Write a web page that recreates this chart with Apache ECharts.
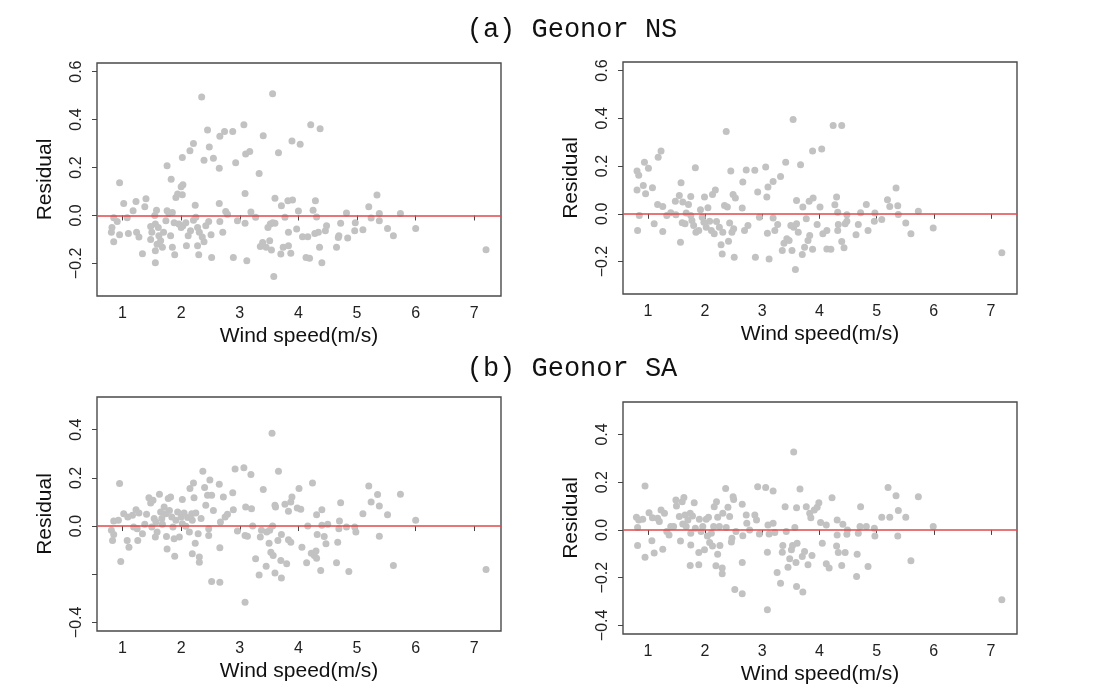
<!DOCTYPE html>
<html>
<head>
<meta charset="utf-8">
<script src="https://cdn.jsdelivr.net/npm/echarts@6/dist/echarts.min.js"></script>
<style>html,body{margin:0;padding:0;background:#fff}#c{width:1094px;height:696px}</style>
</head>
<body>
<div id="c"></div>
<script>
// ---- data (wind speed, residual) ----
const titleA = '(a) Geonor NS';
const titleB = '(b) Geonor SA';
const xName = 'Wind speed(m/s)';
const yName = 'Residual';
const xTicks = [1, 2, 3, 4, 5, 6, 7];
const yTicksNS = [-0.2, 0, 0.2, 0.4, 0.6];
const yTicksSA = [-0.4, -0.2, 0, 0.2, 0.4];

const nsLeft = [[0.95,0.136],[1.02,0.05],[0.85,-0.01],[0.91,-0.025],[0.82,-0.05],[0.81,-0.07],[0.85,-0.11],[0.95,-0.08],[1.08,-0.01],[1.18,0.02],[1.23,0.058],[1.10,-0.075],[1.24,-0.07],[1.28,-0.09],[1.34,-0.16],[1.38,0.036],[1.40,0.07],[1.48,-0.046],[1.50,-0.07],[1.48,-0.1],[1.55,0.0],[1.58,0.022],[1.56,-0.036],[1.61,-0.05],[1.56,-0.147],[1.56,-0.197],[1.59,-0.12],[1.62,-0.085],[1.65,-0.105],[1.68,-0.133],[1.70,-0.07],[1.74,-0.022],[1.76,0.02],[1.79,0.008],[1.76,0.207],[1.83,0.151],[1.85,0.012],[1.82,-0.085],[1.85,-0.133],[1.89,-0.164],[1.88,-0.03],[1.91,0.075],[1.94,0.089],[2.00,0.12],[2.03,0.128],[2.02,0.086],[2.00,-0.05],[1.96,-0.036],[2.03,-0.043],[2.08,-0.03],[2.02,0.242],[2.09,-0.126],[2.12,-0.085],[2.16,-0.064],[2.15,0.27],[2.21,0.3],[2.24,0.043],[2.21,-0.02],[2.25,-0.008],[2.28,-0.05],[2.30,-0.164],[2.28,-0.126],[2.31,-0.07],[2.35,0.494],[2.36,-0.09],[2.39,-0.11],[2.39,0.23],[2.42,-0.043],[2.45,0.357],[2.47,-0.025],[2.48,0.286],[2.51,-0.08],[2.52,-0.175],[2.55,0.239],[2.65,0.197],[2.65,0.05],[2.66,-0.025],[2.66,0.33],[2.74,0.35],[2.71,-0.07],[2.76,0.017],[2.79,0.005],[2.88,0.35],[2.89,-0.175],[2.93,0.22],[2.96,-0.022],[3.07,0.378],[3.09,0.092],[3.09,-0.033],[3.12,-0.189],[3.10,0.256],[3.17,0.267],[3.19,0.014],[3.27,-0.008],[3.33,0.175],[3.40,0.332],[3.35,-0.13],[3.39,-0.113],[3.45,-0.133],[3.51,-0.105],[3.54,-0.144],[3.56,0.508],[3.48,-0.05],[3.52,-0.036],[3.56,-0.03],[3.60,-0.033],[3.58,-0.255],[3.60,0.072],[3.66,0.262],[3.71,0.04],[3.70,-0.161],[3.74,-0.133],[3.77,-0.008],[3.82,0.061],[3.83,-0.07],[3.83,-0.126],[3.87,-0.158],[3.89,0.311],[3.90,0.064],[3.97,-0.057],[4.00,0.019],[4.03,0.297],[4.07,-0.089],[4.16,-0.089],[4.13,-0.175],[4.19,-0.178],[4.21,0.378],[4.25,0.022],[4.29,0.061],[4.31,-0.006],[4.28,-0.075],[4.34,-0.07],[4.36,-0.133],[4.37,0.362],[4.40,-0.197],[4.46,-0.064],[4.48,-0.043],[4.65,-0.133],[4.68,-0.092],[4.69,-0.085],[4.72,-0.033],[4.82,0.01],[4.84,-0.094],[4.97,-0.03],[4.96,-0.064],[5.10,-0.06],[5.20,0.036],[5.24,-0.011],[5.34,0.085],[5.38,0.008],[5.38,-0.022],[5.52,-0.054],[5.62,-0.085],[5.74,0.008],[6.00,-0.054],[7.20,-0.143]];

const nsRight = [[0.81,0.179],[0.84,0.161],[0.94,0.216],[1.01,0.191],[0.92,0.119],[0.96,0.084],[1.08,0.109],[0.81,0.1],[0.85,-0.007],[0.82,-0.07],[1.11,-0.042],[1.18,0.237],[1.23,0.263],[1.17,0.039],[1.26,0.031],[1.26,-0.074],[1.33,-0.007],[1.40,0.004],[1.48,0.053],[1.49,-0.004],[1.58,0.13],[1.55,0.077],[1.57,-0.119],[1.61,0.049],[1.60,-0.038],[1.65,-0.042],[1.67,0.003],[1.71,0.039],[1.75,0.073],[1.75,-0.007],[1.77,-0.028],[1.83,0.193],[1.80,-0.049],[1.84,-0.077],[1.89,-0.07],[1.92,0.017],[1.95,-0.014],[1.99,0.07],[1.98,-0.035],[2.02,-0.056],[2.05,0.025],[2.08,-0.031],[2.11,-0.07],[2.13,0.081],[2.18,0.1],[2.16,-0.084],[2.20,-0.032],[2.25,-0.056],[2.28,-0.13],[2.30,-0.168],[2.31,-0.077],[2.34,0.035],[2.37,0.345],[2.39,0.028],[2.41,-0.115],[2.43,-0.039],[2.45,0.179],[2.47,-0.077],[2.49,0.081],[2.53,0.066],[2.51,-0.182],[2.50,-0.063],[2.65,0.024],[2.66,0.133],[2.69,-0.07],[2.72,0.184],[2.75,-0.049],[2.87,0.182],[2.88,-0.182],[2.92,0.091],[2.95,-0.014],[3.06,0.196],[3.08,0.07],[3.10,0.112],[3.09,-0.081],[3.12,-0.189],[3.19,0.135],[3.19,-0.018],[3.22,-0.07],[3.27,-0.045],[3.32,0.156],[3.35,-0.154],[3.38,-0.123],[3.41,0.216],[3.43,-0.105],[3.47,-0.112],[3.50,-0.049],[3.54,0.395],[3.52,-0.154],[3.55,-0.056],[3.60,-0.042],[3.58,-0.233],[3.60,0.056],[3.63,-0.077],[3.67,0.205],[3.70,-0.17],[3.71,0.028],[3.74,-0.14],[3.77,-0.021],[3.80,-0.112],[3.83,-0.091],[3.82,0.053],[3.88,0.263],[3.89,0.066],[3.88,-0.149],[3.96,-0.045],[4.01,0.028],[4.04,0.272],[4.06,-0.084],[4.13,-0.07],[4.13,-0.147],[4.20,-0.149],[4.24,0.37],[4.27,0.038],[4.30,0.07],[4.32,0.007],[4.32,-0.07],[4.33,-0.045],[4.39,0.37],[4.39,-0.116],[4.43,-0.142],[4.45,-0.042],[4.48,-0.004],[4.48,-0.031],[4.64,-0.088],[4.68,-0.045],[4.72,0.004],[4.82,0.039],[4.85,-0.07],[4.96,-0.031],[4.97,0.003],[5.09,-0.024],[5.19,0.059],[5.23,0.031],[5.34,0.108],[5.37,0.034],[5.38,-0.003],[5.51,-0.039],[5.60,-0.084],[5.73,0.011],[5.99,-0.06],[7.19,-0.163]];

const saLeft = [[0.95,0.177],[0.85,0.021],[0.93,0.024],[0.81,-0.018],[0.85,-0.035],[0.83,-0.06],[0.97,-0.147],[1.02,0.051],[1.09,0.038],[1.08,-0.06],[1.11,-0.088],[1.17,0.045],[1.23,0.068],[1.19,-0.004],[1.25,-0.011],[1.28,0.054],[1.26,-0.06],[1.34,-0.032],[1.38,0.007],[1.41,0.049],[1.45,0.118],[1.48,0.096],[1.52,0.107],[1.50,-0.004],[1.54,0.031],[1.56,-0.046],[1.59,-0.025],[1.57,0.017],[1.63,0.132],[1.65,0.058],[1.67,0.031],[1.68,0.007],[1.71,0.079],[1.74,0.051],[1.75,-0.043],[1.76,-0.095],[1.78,0.114],[1.82,0.121],[1.80,0.065],[1.84,0.038],[1.86,-0.004],[1.89,-0.125],[1.88,-0.053],[1.91,0.024],[1.94,0.058],[1.97,-0.046],[2.00,0.038],[2.02,0.11],[2.02,0.01],[2.05,0.054],[2.08,-0.001],[2.11,0.035],[2.14,-0.025],[2.15,0.156],[2.18,0.051],[2.19,0.024],[2.21,0.179],[2.22,0.118],[2.19,-0.115],[2.24,-0.071],[2.25,0.054],[2.29,-0.032],[2.31,-0.129],[2.31,-0.15],[2.34,0.031],[2.37,0.228],[2.40,0.16],[2.42,0.086],[2.45,0.128],[2.47,-0.011],[2.47,-0.039],[2.49,0.191],[2.52,0.128],[2.52,-0.23],[2.55,0.065],[2.65,0.174],[2.66,-0.234],[2.66,-0.09],[2.67,0.017],[2.72,0.121],[2.75,0.038],[2.79,0.049],[2.88,0.138],[2.89,0.068],[2.92,0.237],[2.96,-0.021],[3.07,0.242],[3.09,-0.317],[3.09,-0.039],[3.10,0.079],[3.13,-0.042],[3.20,0.072],[3.19,0.214],[3.22,0.0],[3.27,-0.136],[3.33,-0.203],[3.35,-0.046],[3.37,-0.018],[3.40,0.152],[3.45,-0.167],[3.46,-0.025],[3.50,-0.071],[3.51,-0.018],[3.53,-0.109],[3.55,0.385],[3.57,-0.122],[3.56,0.0],[3.60,0.086],[3.61,0.079],[3.60,-0.195],[3.65,-0.06],[3.66,0.228],[3.70,-0.143],[3.71,-0.216],[3.71,-0.035],[3.77,0.09],[3.80,-0.157],[3.83,0.061],[3.83,-0.057],[3.87,-0.067],[3.89,0.121],[3.87,0.1],[3.98,0.075],[4.01,0.156],[4.04,0.07],[4.06,-0.088],[4.14,-0.153],[4.16,0.0],[4.22,-0.113],[4.24,0.179],[4.27,-0.122],[4.30,-0.104],[4.31,0.047],[4.32,-0.035],[4.31,-0.134],[4.38,-0.185],[4.40,0.068],[4.40,0.003],[4.44,-0.043],[4.47,-0.074],[4.50,0.007],[4.65,-0.153],[4.67,-0.067],[4.69,-0.011],[4.70,0.021],[4.72,0.097],[4.82,-0.004],[4.86,-0.189],[4.96,-0.004],[4.98,-0.025],[5.10,0.051],[5.20,0.166],[5.24,0.1],[5.35,0.131],[5.38,0.083],[5.38,-0.042],[5.52,0.047],[5.62,-0.164],[5.74,0.132],[6.00,0.024],[7.20,-0.181]];

const saRight = [[0.95,0.184],[0.80,0.053],[0.84,0.042],[0.82,0.01],[0.91,0.045],[0.82,-0.065],[0.95,-0.114],[1.02,0.072],[1.08,0.051],[1.07,-0.045],[1.11,-0.097],[1.17,0.049],[1.20,0.035],[1.23,0.083],[1.29,0.07],[1.26,-0.081],[1.33,-0.007],[1.37,-0.021],[1.40,0.014],[1.45,0.014],[1.49,0.125],[1.50,0.1],[1.55,0.056],[1.57,-0.046],[1.60,0.118],[1.63,0.136],[1.61,0.025],[1.65,0.063],[1.67,0.014],[1.70,0.042],[1.74,0.07],[1.74,-0.149],[1.75,-0.063],[1.75,-0.014],[1.78,0.058],[1.81,0.114],[1.83,0.007],[1.89,-0.146],[1.89,-0.095],[1.90,0.045],[1.93,-0.007],[1.96,0.014],[1.99,-0.083],[2.02,0.045],[2.04,-0.025],[2.06,0.053],[2.08,-0.053],[2.11,-0.014],[2.13,-0.067],[2.15,0.014],[2.16,0.097],[2.19,-0.15],[2.20,0.118],[2.22,-0.102],[2.22,0.053],[2.25,0.014],[2.26,-0.065],[2.30,-0.16],[2.30,-0.184],[2.31,0.07],[2.36,0.174],[2.37,0.01],[2.40,0.095],[2.43,0.056],[2.46,-0.051],[2.47,-0.035],[2.49,0.139],[2.50,0.128],[2.52,-0.25],[2.54,-0.007],[2.65,-0.136],[2.65,0.108],[2.66,-0.024],[2.65,-0.267],[2.72,0.063],[2.73,0.028],[2.78,0.0],[2.87,0.063],[2.90,0.042],[2.92,0.181],[2.95,-0.017],[3.06,0.178],[3.09,-0.093],[3.09,-0.334],[3.10,0.021],[3.12,-0.017],[3.19,0.163],[3.19,0.028],[3.22,-0.011],[3.26,-0.178],[3.32,-0.223],[3.35,-0.093],[3.36,-0.065],[3.40,0.097],[3.42,-0.007],[3.45,-0.156],[3.48,-0.121],[3.51,-0.083],[3.53,-0.065],[3.55,0.327],[3.57,0.01],[3.60,-0.237],[3.60,0.093],[3.61,-0.056],[3.59,-0.136],[3.66,0.171],[3.70,-0.111],[3.71,-0.26],[3.74,-0.09],[3.77,0.097],[3.80,-0.146],[3.83,0.07],[3.85,0.051],[3.87,-0.107],[3.91,0.083],[3.96,0.095],[3.99,0.114],[4.02,0.031],[4.05,-0.056],[4.12,0.021],[4.12,-0.142],[4.17,-0.16],[4.22,0.135],[4.30,-0.067],[4.31,0.042],[4.31,-0.021],[4.33,-0.095],[4.39,-0.149],[4.41,0.024],[4.45,-0.095],[4.48,-0.018],[4.49,0.0],[4.65,-0.195],[4.66,-0.102],[4.68,-0.014],[4.71,0.014],[4.72,0.097],[4.82,0.014],[4.85,-0.153],[4.96,0.007],[4.97,-0.025],[5.09,0.053],[5.20,0.178],[5.23,0.053],[5.34,0.143],[5.38,0.081],[5.37,-0.025],[5.51,0.053],[5.60,-0.129],[5.73,0.139],[5.99,0.014],[7.19,-0.292]];

// ---- chart ----
const chart = echarts.init(document.getElementById('c'), null, {renderer: 'canvas'});
const FONT = '"Liberation Sans", Arial, sans-serif';
const TFONT = '"Liberation Mono", "DejaVu Sans Mono", monospace';
const grids = [
  {left: 97, top: 63, width: 404, height: 233},
  {left: 623, top: 62, width: 394, height: 232},
  {left: 97, top: 397, width: 404, height: 234},
  {left: 623, top: 402, width: 394, height: 232}
];
const panels = [
  {data: nsLeft, yr: [-0.336, 0.636], yt: yTicksNS, hide: []},
  {data: nsRight, yr: [-0.336, 0.636], yt: yTicksNS, hide: []},
  {data: saLeft, yr: [-0.436, 0.536], yt: yTicksSA, hide: [-0.2]},
  {data: saRight, yr: [-0.436, 0.536], yt: yTicksSA, hide: []}
];
function fmtY(v) {
  const s = Math.abs(v).toFixed(1);
  return v < -1e-9 ? '\u2212' + s : s;
}
const option = {
  backgroundColor: '#fff',
  animation: false,
  grid: grids.map(g => Object.assign({show: true, borderColor: '#4a4a4a', borderWidth: 1.4, backgroundColor: 'transparent'}, g)),
  xAxis: panels.map((p, i) => ({
    type: 'value', gridIndex: i, min: 0.5648, max: 7.4552,
    axisLine: {show: false}, splitLine: {show: false},
    axisTick: {show: true, customValues: xTicks, length: 5, lineStyle: {color: '#444'}},
    axisLabel: {customValues: xTicks, fontSize: 16, color: '#222', fontFamily: FONT, margin: 10},
    name: xName, nameLocation: 'middle', nameGap: 30,
    nameTextStyle: {fontSize: 21, color: '#111', fontFamily: FONT}
  })),
  yAxis: panels.map((p, i) => ({
    type: 'value', gridIndex: i, min: p.yr[0], max: p.yr[1],
    axisLine: {show: false}, splitLine: {show: false},
    axisTick: {show: true, customValues: p.yt, length: 5, lineStyle: {color: '#444'}},
    axisLabel: {customValues: p.yt.filter(v => !p.hide.some(h => Math.abs(h - v) < 1e-9)),
      rotate: 90, fontSize: 16, color: '#222', fontFamily: FONT, margin: 12,
      formatter: fmtY},
    name: yName, nameLocation: 'middle', nameGap: 41, nameRotate: 90,
    nameTextStyle: {fontSize: 21, color: '#111', fontFamily: FONT}
  })),
  series: panels.map((p, i) => ({
    type: 'scatter', xAxisIndex: i, yAxisIndex: i, data: p.data,
    symbolSize: 7, itemStyle: {color: '#c2c2c2', opacity: 1},
    silent: true,
    markLine: {silent: true, symbol: 'none', label: {show: false},
      lineStyle: {color: '#e04848', width: 1.5, type: 'solid'},
      data: [{yAxis: 0}]}
  })),
  graphic: [
    {type: 'text', x: 572, y: 30, style: {text: titleA, fontSize: 27, fontFamily: TFONT, fill: '#111', align: 'center', verticalAlign: 'middle'}},
    {type: 'text', x: 572, y: 369, style: {text: titleB, fontSize: 27, fontFamily: TFONT, fill: '#111', align: 'center', verticalAlign: 'middle'}}
  ]
};
chart.setOption(option);
</script>
</body>
</html>
